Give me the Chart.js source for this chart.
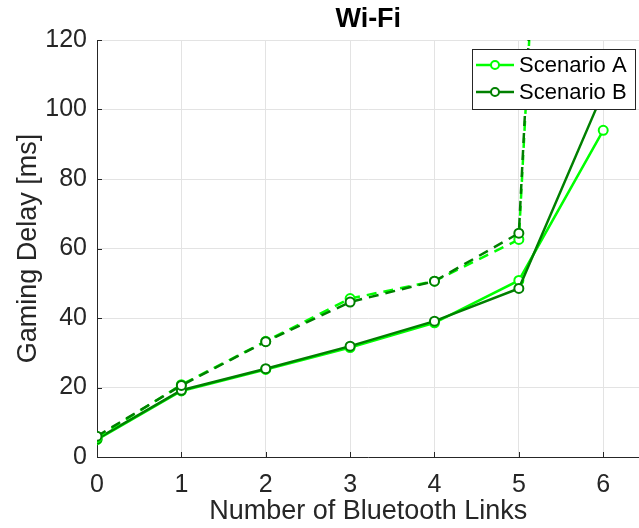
<!DOCTYPE html>
<html>
<head>
<meta charset="utf-8">
<script src="https://cdn.jsdelivr.net/npm/chart.js@4"></script>
<style>
  html, body { margin: 0; padding: 0; background: #fff; overflow: hidden; }
  /* a few px wider than the window: Chart.js keeps a small right gap that MATLAB doesn't */
  #wrap { width: 646px; height: 528px; }
</style>
</head>
<body>
<div id="wrap"><canvas id="chart"></canvas></div>
<script>
const links = [0, 1, 2, 3, 4, 5, 6];

// solid lines
const solidA = [5, 19, 25.2, 31.5, 38.6, 50.8, 94];
const solidB = [5.2, 19.2, 25.4, 31.9, 39.1, 48.5, 105];
// dashed lines
const dashedA = [5.6, 20.8, 33.3, 45.6, 50.6, 62.6, 530];
const dashedB = [6, 20.6, 33.2, 44.6, 50.6, 64.4, 540];

const names = ["Scenario A", "Scenario B"];
const yTicks = [0, 20, 40, 60, 80, 100, 120];

const colA = "rgb(0,255,0)";
const colB = "rgb(0,128,0)";
const ink = "#262626";
const font = "'Liberation Sans', Arial, Helvetica, sans-serif";

const pts = arr => arr.map((v, i) => ({ x: links[i], y: v }));

function line(label, arr, color, dashed) {
  return {
    label,
    data: pts(arr),
    borderColor: color,
    backgroundColor: "#fff",
    pointBorderColor: color,
    pointBackgroundColor: "#fff",
    pointRadius: 4.5,
    pointBorderWidth: 2,
    borderWidth: 2.5,
    borderDash: dashed ? [10, 7] : [],
    tension: 0,
    fill: false
  };
}

// MATLAB-like inward ticks + boxed legend
const extras = {
  id: "extras",
  afterDraw(chart) {
    const { ctx, chartArea: a, scales } = chart;
    ctx.save();
    ctx.strokeStyle = ink;
    ctx.lineWidth = 1;
    scales.x.ticks.forEach(t => {
      const px = Math.round(scales.x.getPixelForValue(t.value)) + 0.5;
      ctx.beginPath();
      ctx.moveTo(px, a.bottom);
      ctx.lineTo(px, a.bottom - 5);
      ctx.stroke();
    });
    scales.y.ticks.forEach(t => {
      const py = Math.round(scales.y.getPixelForValue(t.value)) + 0.5;
      ctx.beginPath();
      ctx.moveTo(a.left, py);
      ctx.lineTo(a.left + 5, py);
      ctx.stroke();
    });

    // legend
    const bx = 472.5, by = 49.5, bw = 163, bh = 60;
    ctx.fillStyle = "#fff";
    ctx.fillRect(bx, by, bw, bh);
    ctx.strokeStyle = ink;
    ctx.strokeRect(bx, by, bw, bh);
    [colA, colB].forEach((c, i) => {
      const y = 65 + i * 27;
      ctx.strokeStyle = c;
      ctx.lineWidth = 2.5;
      ctx.beginPath();
      ctx.moveTo(476, y);
      ctx.lineTo(514, y);
      ctx.stroke();
      ctx.beginPath();
      ctx.arc(495, y, 4, 0, Math.PI * 2);
      ctx.fillStyle = "#fff";
      ctx.fill();
      ctx.lineWidth = 2;
      ctx.stroke();
      ctx.fillStyle = "#000";
      ctx.font = "22px " + font;
      ctx.textBaseline = "middle";
      ctx.fillText(names[i], 519, y + 1);
    });
    ctx.restore();
  }
};

new Chart(document.getElementById("chart"), {
  type: "line",
  data: {
    datasets: [
      line(names[1], dashedB, colB, true),
      line(names[0], dashedA, colA, true),
      line(names[1], solidB, colB, false),
      line(names[0], solidA, colA, false)
    ]
  },
  options: {
    responsive: true,
    maintainAspectRatio: false,
    animation: false,
    layout: { padding: 0 },
    plugins: {
      legend: { display: false },
      tooltip: { enabled: false },
      title: {
        display: true,
        text: "Wi-Fi",
        fullSize: false,
        color: "#000",
        font: { family: font, size: 27, weight: "bold" },
        padding: { top: 3, bottom: 4.6 }
      }
    },
    scales: {
      x: {
        type: "linear",
        min: 0,
        max: 6.43,
        afterBuildTicks: s => { s.ticks = links.map(v => ({ value: v })); },
        afterFit: s => { s.height = 71; },
        ticks: {
          stepSize: 1,
          color: ink,
          padding: 13,
          maxRotation: 0,
          font: { family: font, size: 25 }
        },
        grid: { color: "#e3e3e3", drawTicks: false },
        border: { color: ink, width: 1 },
        title: {
          display: true,
          text: "Number of Bluetooth Links",
          color: ink,
          font: { family: font, size: 27 },
          padding: { top: 0, bottom: 0 }
        }
      },
      y: {
        min: 0,
        max: 120,
        afterBuildTicks: s => { s.ticks = yTicks.map(v => ({ value: v })); },
        afterFit: s => { s.width = 97; },
        ticks: {
          stepSize: 20,
          color: ink,
          padding: 10,
          font: { family: font, size: 25 }
        },
        grid: { color: "#e3e3e3", drawTicks: false },
        border: { color: ink, width: 1 },
        title: {
          display: true,
          text: "Gaming Delay [ms]",
          color: ink,
          font: { family: font, size: 27 },
          padding: { top: 12, bottom: 0 }
        }
      }
    }
  },
  plugins: [extras]
});
</script>
</body>
</html>
